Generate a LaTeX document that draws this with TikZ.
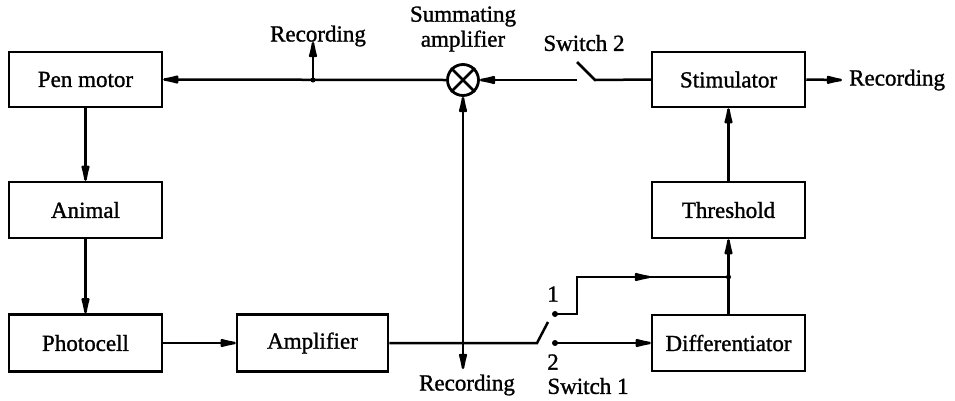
\documentclass[tikz,border=0pt]{standalone}
\usepackage{fontspec}
\setmainfont{Liberation Serif}[FakeBold=1.2]
\usetikzlibrary{arrows.meta}
\begin{document}
\begin{tikzpicture}[x=1pt,y=-1pt,
  txt/.style={font=\fontsize{23}{25}\selectfont},
  box/.style={draw,line width=2.5pt,minimum width=153pt,minimum height=55pt,inner sep=0pt,txt},
  lbl/.style={inner sep=0pt,txt},
  wire/.style={line width=2.5pt},
  arr/.style={wire,-{Latex[length=24pt,width=9pt,round]}},
  dot/.style={circle,fill,inner sep=0pt,minimum size=6pt}]
\useasboundingbox (0,0) rectangle (955,400);
% boxes
\node[box] (pen) at (85.5,79.5) {Pen motor};
\node[box,minimum height=56pt] (animal) at (85.5,210) {Animal};
\node[box,minimum height=57pt] (photo) at (85.5,343) {Photocell};
\node[box,minimum height=57pt,minimum width=151pt] (amp) at (312.5,343) {Amplifier};
\node[box] (stim) at (728.5,79.5) {Stimulator};
\node[box,minimum height=56pt] (thr) at (728.5,210) {Threshold};
\node[box,minimum height=56pt] (diff) at (728.5,343) {Differentiator};
% summing junction
\node[circle,draw,line width=2.8pt,minimum size=31pt,inner sep=0pt] (sum) at (463,80) {};
\draw[wire] (sum.north east) -- (sum.south west) (sum.north west) -- (sum.south east);
% coordinates
\coordinate (rtop) at (313,80);
\coordinate (rtopend) at (313,42);
\coordinate (jb) at (463,343);
\coordinate (jbend) at (463,369);
\coordinate (piv) at (537,343);
\coordinate (blade1) at (548,322);
\coordinate (k1) at (577,314);
\coordinate (k2) at (577,277);
\coordinate (kmid) at (650,277);
\coordinate (jn) at (728.5,277);
\coordinate (s2a) at (595,80);
\coordinate (s2b) at (577,62);
\coordinate (s2c) at (577,80);
\coordinate (recR) at (842,80);
\node[dot] (c1) at (555,314) {};
\node[dot] (c2) at (555,343) {};
\node[dot,minimum size=5pt] (jdot) at (jn) {};
\node[dot,minimum size=5pt] (rdot) at (rtop) {};
% connectors
\draw[arr] (sum.west) -- (pen.east);
\draw[arr] (rtop) -- (rtopend);
\draw[arr] (pen.south) -- (animal.north);
\draw[arr] (animal.south) -- (photo.north);
\draw[arr] (photo.east) -- (amp.east -| amp.west);
\draw[wire] (amp.east) -- (piv) -- (blade1);
\draw[arr] (jb) -- (sum.south);
\draw[arr] (jb) -- (jbend);
\draw[wire] (c1.center) -- (k1) -- (k2) -- (jn);
\draw[arr] (k2) -- (kmid);
\draw[arr] (c2.center) -- (diff.west);
\draw[arr] (diff.north) -- (thr.south);
\draw[arr] (thr.north) -- (stim.south);
\draw[arr] (stim.east) -- (recR);
\draw[wire] (stim.west) -- (s2a) -- (s2b);
\draw[arr] (s2c) -- (sum.east);
% labels
\node[lbl] at (318,36) {Recording};
\node[lbl,align=center] at (463,29) {Summating\\amplifier};
\node[lbl] at (584,43) {Switch 2};
\node[lbl,anchor=west] at (849,80) {Recording};
\node[lbl] at (467,385) {Recording};
\node[lbl] at (553,294) {1};
\node[lbl] at (553,362) {2};
\node[lbl] at (588,386) {Switch 1};
\end{tikzpicture}
\end{document}
